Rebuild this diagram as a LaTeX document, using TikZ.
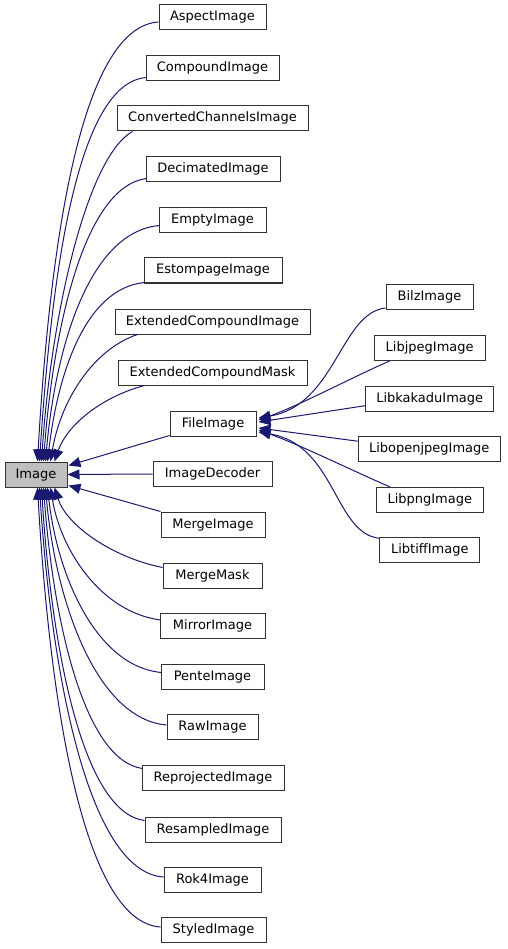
\documentclass[tikz,border=0pt]{standalone}
\usepackage{fontspec}
\setmainfont{DejaVu Sans}
\usetikzlibrary{arrows.meta,calc}
\definecolor{edgeblue}{RGB}{25,25,112}
\definecolor{imgfill}{RGB}{191,191,191}
\begin{document}
\begin{tikzpicture}[x=1pt,y=1pt,
 box/.style={draw=black!80, line width=1pt, minimum height=25pt, inner sep=0pt, text height=9.5pt, text depth=2.5pt, font=\fontsize{13}{15}\selectfont, fill=white},
 edge/.style={draw=edgeblue, line width=1pt, -{Triangle[length=12pt,width=10pt]}}]
\useasboundingbox (0,0) rectangle (507,-949);
% base
\node[box, fill=imgfill, minimum width=62pt] (img) at (36,-474.5) {Image};
% middle column
\node[box, minimum width=107pt] (aspect) at (212.5,-17.5) {AspectImage};
\node[box, minimum width=133pt] (compound) at (212.5,-68.5) {CompoundImage};
\node[box, minimum width=191pt] (converted) at (212.5,-118.5) {ConvertedChannelsImage};
\node[box, minimum width=134pt] (decimated) at (213,-169.5) {DecimatedImage};
\node[box, minimum width=107pt] (empty) at (212.5,-220.5) {EmptyImage};
\node[box, minimum width=138pt] (estompage) at (213,-270.5) {EstompageImage};
\node[box, minimum width=195pt] (extimg) at (212.5,-321.5) {ExtendedCompoundImage};
\node[box, minimum width=189pt] (extmask) at (212.5,-372.5) {ExtendedCompoundMask};
\node[box, minimum width=86pt] (file) at (213,-423.5) {FileImage};
\node[box, minimum width=119pt] (decoder) at (212.5,-474) {ImageDecoder};
\node[box, minimum width=104pt] (merge) at (213,-524.5) {MergeImage};
\node[box, minimum width=99pt] (mergemask) at (212.5,-575.5) {MergeMask};
\node[box, minimum width=105pt] (mirror) at (212.5,-626) {MirrorImage};
\node[box, minimum width=103pt] (pente) at (212.5,-676.5) {PenteImage};
\node[box, minimum width=91pt] (raw) at (212.5,-727) {RawImage};
\node[box, minimum width=142pt] (reproj) at (213,-777.5) {ReprojectedImage};
\node[box, minimum width=136pt] (resampled) at (213,-829.5) {ResampledImage};
\node[box, minimum width=97pt] (rok) at (212.5,-880) {Rok4Image};
\node[box, minimum width=105pt] (styled) at (213.5,-930) {StyledImage};
% right column
\node[box, minimum width=87pt] (bilz) at (429.5,-297) {BilzImage};
\node[box, minimum width=111pt] (jpeg) at (429.7,-348) {LibjpegImage};
\node[box, minimum width=128pt] (kakadu) at (429.7,-398.7) {LibkakaduImage};
\node[box, minimum width=142pt] (openjpeg) at (429.2,-449.2) {LibopenjpegImage};
\node[box, minimum width=107pt] (png) at (429.8,-499.8) {LibpngImage};
\node[box, minimum width=100pt] (tiff) at (429.8,-550.3) {LibtiffImage};
% upper edges
\draw[edge] ($(aspect.west)+(0,-4.5)$) .. controls +(-79,-5) and +(12,211) .. ($(img.north west)+(33,0)$);
\draw[edge] ($(compound.south west)+(1,4)$) .. controls +(-70,-5) and +(12,185) .. ($(img.north west)+(35,0)$);
\draw[edge] ($(converted.south west)+(16,0)$) .. controls +(-45,-25) and +(10,150) .. ($(img.north west)+(37,0)$);
\draw[edge] ($(decimated.south west)+(1,4)$) .. controls +(-62,-8) and +(10,135) .. ($(img.north west)+(39,0)$);
\draw[edge] ($(empty.south west)+(1,8)$) .. controls +(-70,-6) and +(10,115) .. ($(img.north west)+(41,0)$);
\draw[edge] ($(estompage.south west)+(1,1)$) .. controls +(-60,-6) and +(10,86) .. ($(img.north west)+(43,0)$);
\draw[edge] ($(extimg.south west)+(23,0)$) .. controls +(-45,-15) and +(10,60) .. ($(img.north west)+(46,0)$);
\draw[edge] ($(extmask.south west)+(27,0)$) .. controls +(-45,-12) and +(12,35) .. ($(img.north west)+(50,0)$);
% straight edges
\draw[edge] ($(file.south west)+(0,1)$) -- ($(img.north east)+(1,-4)$);
\draw[edge] (decoder.west) -- (img.east);
\draw[edge] ($(merge.north west)+(0,0)$) -- ($(img.south east)+(1,2)$);
% lower edges
\draw[edge] ($(mergemask.north west)+(0,-5)$) .. controls +(-50,10) and +(12,-38) .. ($(img.south west)+(50,0)$);
\draw[edge] ($(mirror.north west)+(1,-7)$) .. controls +(-60,8) and +(10,-62) .. ($(img.south west)+(46,0)$);
\draw[edge] ($(pente.north west)+(1,-9)$) .. controls +(-65,6) and +(10,-89) .. ($(img.south west)+(43,0)$);
\draw[edge] ($(raw.north west)+(0,-11)$) .. controls +(-70,6) and +(10,-114) .. ($(img.south west)+(41,0)$);
\draw[edge] ($(reproj.north west)+(1,-4)$) .. controls +(-58,8) and +(10,-135) .. ($(img.south west)+(39,0)$);
\draw[edge] ($(resampled.north west)+(0,-4)$) .. controls +(-62,8) and +(10,-160) .. ($(img.south west)+(37,0)$);
\draw[edge] ($(rok.north west)+(0,-10)$) .. controls +(-75,5) and +(12,-187) .. ($(img.south west)+(35,0)$);
\draw[edge] ($(styled.north west)+(0,-10)$) .. controls +(-78,5) and +(12,-211) .. ($(img.south west)+(33,0)$);
% FileImage children
\draw[edge] ($(bilz.south west)+(0,2)$) .. controls +(-45,-5) and +(77,13) .. ($(file.east)+(2,5.5)$);
\draw[edge] ($(jpeg.south west)+(16,0)$) .. controls +(-35,-15) and +(42,15) .. ($(file.east)+(2,3.5)$);
\draw[edge] ($(kakadu.west)+(0,-7)$) -- ($(file.east)+(2,1.5)$);
\draw[edge] ($(openjpeg.west)+(0,8)$) -- ($(file.east)+(2,-4.5)$);
\draw[edge] ($(png.north west)+(14,0)$) .. controls +(-35,15) and +(42,-15) .. ($(file.east)+(2,-6.5)$);
\draw[edge] ($(tiff.north west)+(0,-1)$) .. controls +(-45,5) and +(77,-13) .. ($(file.east)+(2,-8.5)$);
\end{tikzpicture}
\end{document}
